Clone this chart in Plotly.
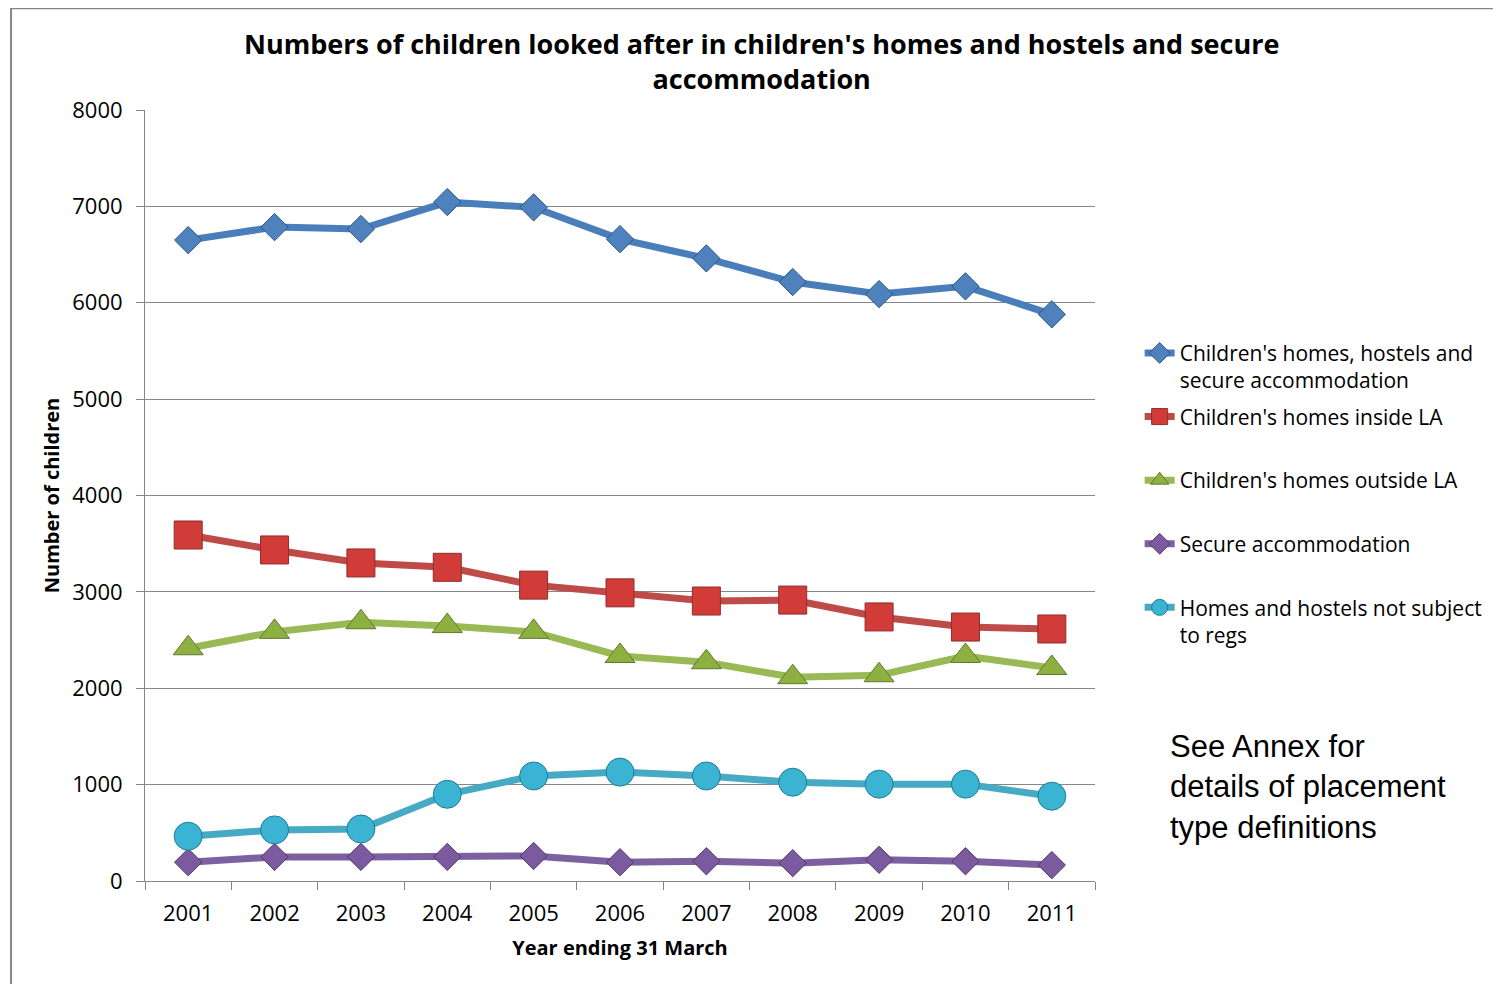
import plotly.graph_objects as go

years = ["2001", "2002", "2003", "2004", "2005", "2006", "2007", "2008", "2009", "2010", "2011"]

total = [6650, 6785, 6765, 7045, 6990, 6660, 6460, 6215, 6090, 6170, 5880]
inside_la = [3590, 3435, 3300, 3255, 3070, 2990, 2905, 2915, 2740, 2635, 2615]
outside_la = [2415, 2585, 2685, 2645, 2585, 2335, 2270, 2115, 2135, 2335, 2210]
secure = [195, 250, 250, 250, 260, 195, 205, 185, 220, 205, 165]
not_regs = [465, 530, 540, 900, 1090, 1130, 1090, 1025, 1005, 1005, 880]

names = [
    "Children's homes, hostels and<br>secure accommodation",
    "Children's homes inside LA<br> ",
    "Children's homes outside LA<br> ",
    "Secure accommodation<br> ",
    "Homes and hostels not subject<br>to regs",
]

fig = go.Figure()

# (values, line colour, marker colour, marker border, symbol, size)
series = [
    (total, "#4A7EBB", "#4F81BD", "#2C5687", "diamond", 21),
    (inside_la, "#BE4B48", "#D13B38", "#8C2F2D", "square", 28),
    (outside_la, "#98B954", "#8DB040", "#5F7A2C", "triangle-up", 26),
    (secure, "#7D60A0", "#7B5AA0", "#4F3A69", "diamond", 21),
    (not_regs, "#46AAC5", "#3BB3D2", "#217C95", "circle", 28),
]

for i, ((vals, lc, mc, mb, sym, sz), nm) in enumerate(zip(series, names)):
    fig.add_trace(go.Scatter(
        x=years, y=vals, name=nm, mode="lines+markers", legendgroup=str(i),
        line=dict(color=lc, width=7),
        marker=dict(symbol=sym, size=sz, color=mc, line=dict(color=mb, width=1)),
    ))

fig.update_layout(
    width=1493, height=976,
    margin=dict(l=137, r=406, t=102, b=103),
    paper_bgcolor="white", plot_bgcolor="white",
    font=dict(family="Open Sans", size=22, color="black"),
    showlegend=True,
    legend=dict(
        x=1.047, y=0.711, xanchor="left", yanchor="top",
        font=dict(size=21, family="Open Sans"), valign="top",
        tracegroupgap=6, bgcolor="rgba(0,0,0,0)",
    ),
    xaxis=dict(
        type="category", range=[-0.5, 10.5],
        showline=True, linecolor="#868686", linewidth=1,
        ticks="outside", tickson="boundaries", ticklen=8, tickcolor="#868686",
        showgrid=False, tickfont=dict(size=22), ticklabelstandoff=13,
        title=dict(text="<b>Year ending 31 March</b>", font=dict(size=20), standoff=14),
    ),
    yaxis=dict(
        range=[0, 8000], dtick=1000,
        showline=True, linecolor="#868686", linewidth=1,
        ticks="outside", ticklen=8, tickcolor="#868686",
        showgrid=True, gridcolor="#868686", gridwidth=1,
        zeroline=False, tickfont=dict(size=22), ticklabelstandoff=9,
        title=dict(text="<b>Number of children</b>", font=dict(size=20), standoff=7),
    ),
    shapes=[dict(
        type="rect", xref="paper", yref="paper",
        x0=-0.141, x1=1.45, y0=-0.16, y1=1.132,
        line=dict(color="#868686", width=2), fillcolor="rgba(0,0,0,0)", layer="below",
    )],
    annotations=[
        dict(
            text="<b>Numbers of children looked after in children's homes and hostels and secure<br>accommodation</b>",
            xref="paper", yref="paper", x=0.649, y=1.063, xanchor="center", yanchor="middle",
            align="center", showarrow=False,
            font=dict(family="Open Sans", size=27, color="black"),
        ),
        dict(
            text="See Annex for<br>details of placement<br>type definitions",
            xref="paper", yref="paper", x=1.077, y=0.2, xanchor="left", yanchor="top",
            align="left", showarrow=False,
            font=dict(family="Liberation Sans", size=31, color="black"),
        ),
    ],
)

fig.write_html("out.html")
